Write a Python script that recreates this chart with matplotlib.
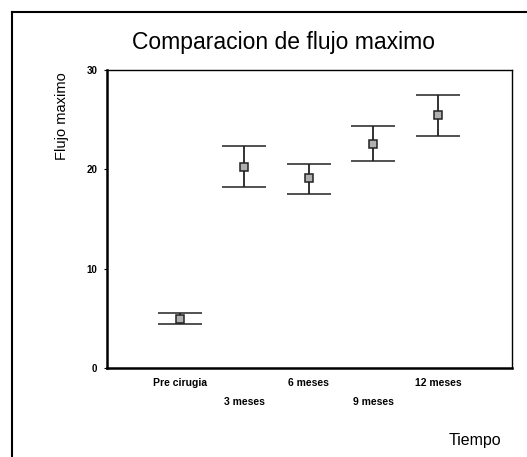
import numpy as np
import matplotlib
matplotlib.use("Agg")
from matplotlib import pyplot as plt
from matplotlib.lines import Line2D

plt.rcParams['font.family'] = ['Liberation Sans', 'DejaVu Sans']

tiempos = ["Pre cirugia", "3 meses", "6 meses", "9 meses", "12 meses"]
media = [4.9, 20.2, 19.1, 22.6, 25.5]
sup = [5.5, 22.3, 20.5, 24.4, 27.5]
inf = [4.4, 18.2, 17.5, 20.8, 23.4]

W, H = 527, 457
fig = plt.figure(figsize=(W / 100, H / 100), dpi=100)

# axes box in pixels
left, right, top, bottom = 107, 512, 70, 368
ax = fig.add_axes([left / W, 1 - bottom / H, (right - left) / W, (bottom - top) / H])

x = np.arange(len(tiempos))
media = np.array(media)
err = [media - np.array(inf), np.array(sup) - media]
ax.errorbar(x, media, yerr=err, fmt='s', ms=6, mfc='#b0b0b0', mec='#222222', mew=1.1,
            ecolor='#222222', elinewidth=1.3, capsize=16, capthick=1.3)

ax.set_xlim(-1.13, 5.15)
ax.set_ylim(0, 30)
ax.set_yticks([0, 10, 20, 30])
ax.set_yticklabels(["0", "10", "20", "30"], fontsize=7, fontweight='bold')
ax.tick_params(axis='y', length=2, width=0.8, pad=5)
ax.set_xticks(x)
ax.set_xticklabels([t if i % 2 == 0 else "\n" + t for i, t in enumerate(tiempos)],
                   fontsize=7.5, fontweight='bold', linespacing=2.2)
ax.tick_params(axis='x', length=0, pad=7)

for s in ['left', 'bottom']:
    ax.spines[s].set_linewidth(1.8)
for s in ['top', 'right']:
    ax.spines[s].set_linewidth(1.0)

fig.text(284 / W, 1 - 42 / H, "Comparacion de flujo maximo", ha='center', va='center', fontsize=16.5)
fig.text(62 / W, 1 - 72 / H, "Flujo maximo", rotation=90, ha='center', va='top', fontsize=10.5)
fig.text(475 / W, 1 - 440 / H, "Tiempo", ha='center', va='center', fontsize=11.5)

# outer frame
fig.add_artist(Line2D([12 / W, 12 / W], [0, 1 - 12 / H], color='black', lw=1.5))
fig.add_artist(Line2D([12 / W, 1], [1 - 12 / H, 1 - 12 / H], color='black', lw=1.5))

fig.savefig("out.png", dpi=100)
